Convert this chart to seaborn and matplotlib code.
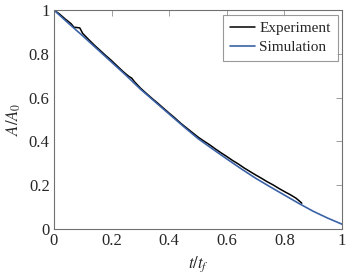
import numpy as np
import pandas as pd
import seaborn as sns
import matplotlib.pyplot as plt

# Simulation curve
sim_t = [0.0, 0.05, 0.1, 0.15, 0.2, 0.25, 0.3, 0.35, 0.4, 0.45, 0.5,
         0.55, 0.6, 0.65, 0.7, 0.75, 0.8, 0.85, 0.9, 0.95, 1.0]
sim_a = [1.0, 0.94, 0.882, 0.822, 0.762, 0.702, 0.639, 0.582, 0.525, 0.468, 0.413,
         0.366, 0.32, 0.275, 0.232, 0.193, 0.155, 0.117, 0.081, 0.05, 0.022]

# Experiment curve (noisy, ends at t/t_f ~ 0.86)
exp_t = [0.0, 0.02, 0.04, 0.06, 0.07, 0.08, 0.09, 0.10, 0.12, 0.14, 0.16, 0.18,
         0.20, 0.22, 0.24, 0.26, 0.27, 0.28, 0.30, 0.32, 0.34, 0.36, 0.38,
         0.40, 0.42, 0.44, 0.46, 0.48, 0.50, 0.52, 0.54, 0.56, 0.58, 0.60,
         0.62, 0.64, 0.66, 0.68, 0.70, 0.72, 0.74, 0.76, 0.78, 0.80, 0.82,
         0.84, 0.85, 0.86]
exp_a = [1.0, 0.981, 0.958, 0.937, 0.921, 0.920, 0.918, 0.893, 0.866, 0.840, 0.816, 0.792,
         0.769, 0.744, 0.719, 0.697, 0.689, 0.672, 0.644, 0.620, 0.597, 0.575, 0.552,
         0.529, 0.507, 0.483, 0.462, 0.441, 0.420, 0.402, 0.385, 0.366, 0.348, 0.331,
         0.313, 0.297, 0.279, 0.263, 0.247, 0.232, 0.216, 0.202, 0.186, 0.171, 0.157,
         0.141, 0.130, 0.118]

sns.set_theme(style="white")
plt.rcParams["font.family"] = ["Liberation Serif", "DejaVu Serif"]
plt.rcParams["mathtext.fontset"] = "stix"

df_exp = pd.DataFrame({"t": exp_t, "A": exp_a})
df_sim = pd.DataFrame({"t": sim_t, "A": sim_a})

fig = plt.figure(figsize=(3.52, 2.77), dpi=100)
ax = fig.add_axes([0.153, 0.173, 0.819, 0.791])

sns.lineplot(data=df_exp, x="t", y="A", ax=ax, color="black", lw=1.1,
             label="Experiment", estimator=None, sort=False)
sns.lineplot(data=df_sim, x="t", y="A", ax=ax, color="#3b62a6", lw=1.2,
             label="Simulation", estimator=None, sort=False)

ax.set_xlim(0, 1)
ax.set_ylim(0, 1)
ax.set_xticks([0, 0.2, 0.4, 0.6, 0.8, 1])
ax.set_xticklabels(["0", "0.2", "0.4", "0.6", "0.8", "1"])
ax.set_yticks([0, 0.2, 0.4, 0.6, 0.8, 1])
ax.set_yticklabels(["0", "0.2", "0.4", "0.6", "0.8", "1"])
ax.tick_params(direction="in", length=4, width=0.6, color="#909090",
               labelsize=12, top=True, right=True, pad=3)
for s in ax.spines.values():
    s.set_color("#707070")
    s.set_linewidth(0.8)
ax.set_xlabel("$t/t_f$", fontsize=12, labelpad=4)
ax.set_ylabel("$A/A_0$", fontsize=12, labelpad=4)

leg = ax.legend(loc="upper right", fontsize=11, frameon=True, fancybox=False,
                handlelength=1.6, handletextpad=0.3, borderpad=0.45,
                labelspacing=0.35, borderaxespad=0.3)
leg.get_frame().set_edgecolor("#808080")
leg.get_frame().set_linewidth(0.8)

fig.savefig("out.png", dpi=100)
